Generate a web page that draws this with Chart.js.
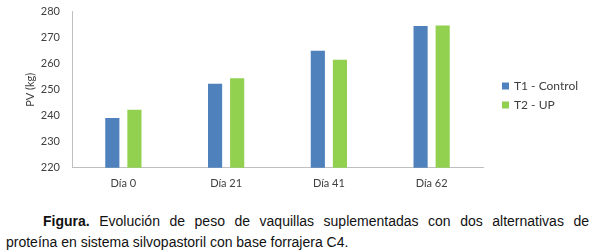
<!DOCTYPE html>
<html>
<head>
<meta charset="utf-8">
<script src="https://cdn.jsdelivr.net/npm/chart.js@4.4.0/dist/chart.umd.min.js"></script>
<style>
  body { margin: 0; background: #fff; }
  #wrap { position: relative; top: -7px; width: 600px; height: 212px; }
  #caption {
    position: absolute; left: 6px; top: 211px; width: 583px;
    font-family: "Liberation Sans", Arial, sans-serif; font-size: 14px;
    line-height: 21px; color: #111;
  }
  #caption .l1 { text-align: justify; text-align-last: justify; text-indent: 37px; }
</style>
</head>
<body>
<div id="wrap"><canvas id="pesoChart"></canvas></div>
<div id="caption">
  <div class="l1"><b>Figura.</b> Evolución de peso de vaquillas suplementadas con dos alternativas de</div>
  <div>proteína en sistema silvopastoril con base forrajera C4.</div>
</div>
<script>
// datos
const categories = ['Día 0', 'Día 21', 'Día 41', 'Día 62'];
const t1Control = [239.1, 252.3, 265.0, 274.5];
const t2Up = [242.3, 254.4, 261.5, 274.7];
const yTicks = [220, 230, 240, 250, 260, 270, 280];

const textColor = '#404040';
const axisFont = { family: 'Lato', size: 11 };

// leyenda a la derecha, dibujada a mano para dejar el hueco como en el original
const sideLegend = {
    id: 'sideLegend',
    afterDraw(chart) {
        const c = chart.ctx;
        const x = chart.chartArea.right + 19;
        const rows = [93, 112];
        c.save();
        c.font = '12px Lato';
        c.textBaseline = 'middle';
        chart.data.datasets.forEach((ds, i) => {
            c.fillStyle = ds.backgroundColor;
            c.fillRect(x, rows[i] - 3.5, 7, 7);
            c.fillStyle = textColor;
            c.fillText(ds.label, x + 12, rows[i]);
        });
        c.restore();
    }
};

const ctx = document.getElementById('pesoChart').getContext('2d');
new Chart(ctx, {
    type: 'bar',
    data: {
        labels: categories,
        datasets: [{
            label: 'T1 - Control',
            data: t1Control,
            backgroundColor: '#4F81BD',
            categoryPercentage: 0.43,
            barPercentage: 0.64
        }, {
            label: 'T2 - UP',
            data: t2Up,
            backgroundColor: '#92D050',
            categoryPercentage: 0.43,
            barPercentage: 0.64
        }]
    },
    options: {
        responsive: true,
        maintainAspectRatio: false,
        animation: false,
        layout: { padding: { top: 4, right: 117, left: 24, bottom: 6 } },
        plugins: {
            tooltip: { enabled: false },
            legend: { display: false }
        },
        scales: {
            x: {
                grid: { display: false, drawTicks: false },
                border: { display: true, color: '#bfbfbf' },
                ticks: { color: textColor, font: axisFont, padding: 9 }
            },
            y: {
                min: 220, max: 280,
                afterBuildTicks: (scale) => { scale.ticks = yTicks.map(v => ({ value: v })); },
                afterFit: (scale) => { scale.width = 48; },
                grid: { display: false, drawTicks: false },
                border: { display: true, color: '#bfbfbf' },
                ticks: { color: textColor, font: axisFont, padding: 12 },
                title: { display: true, text: 'PV (kg)', color: textColor, font: axisFont, padding: { top: 0, bottom: 0 } }
            }
        }
    },
    plugins: [sideLegend]
});
</script>
</body>
</html>
